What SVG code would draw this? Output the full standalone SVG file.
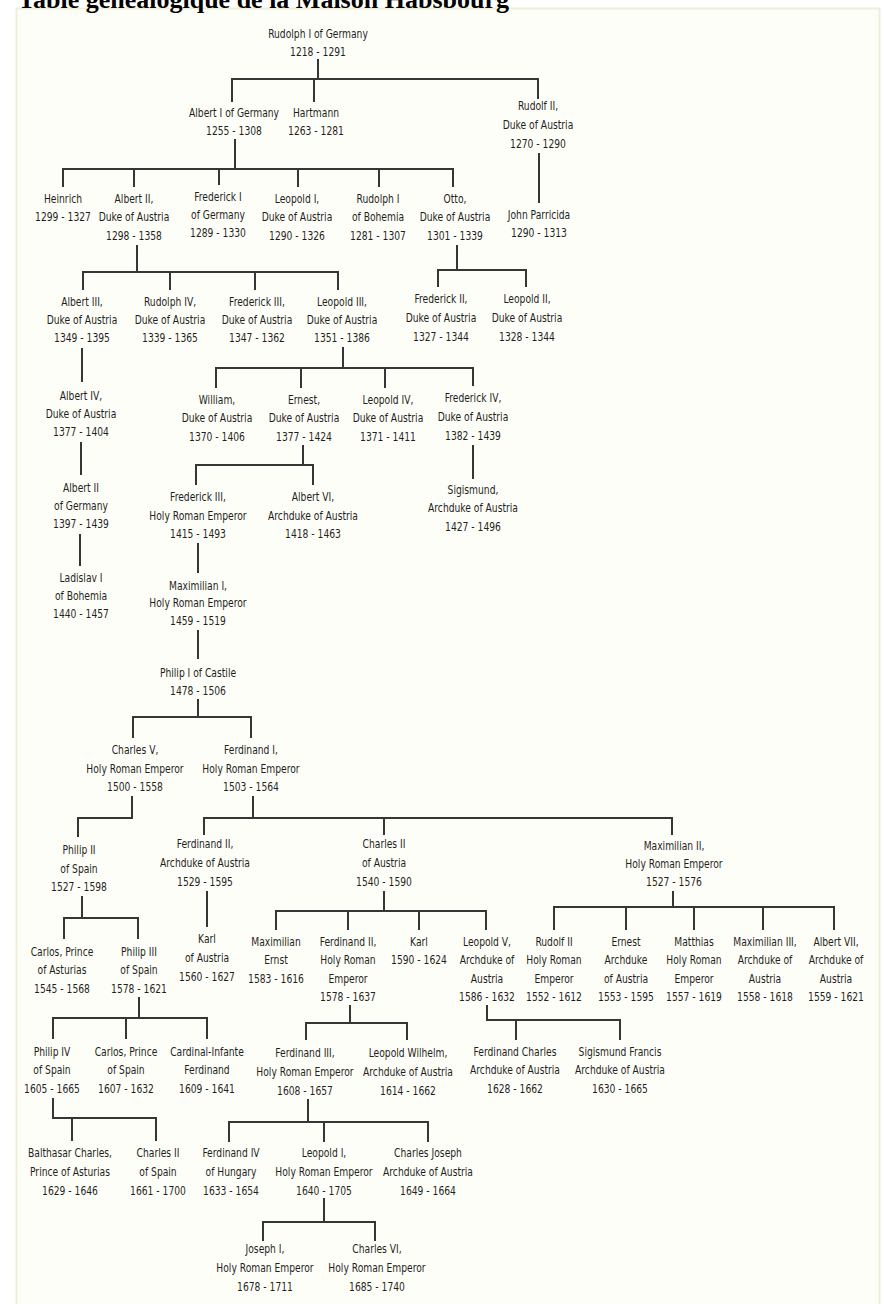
<svg xmlns="http://www.w3.org/2000/svg" width="884" height="1304" viewBox="0 0 884 1304">
<style>
.t{font-family:"DejaVu Sans Condensed","DejaVu Sans",sans-serif;font-size:12px;fill:#1e1e1e;text-anchor:middle}
.c{fill:none;stroke:#363636;stroke-width:2;stroke-linecap:square}
.title{font-family:"Liberation Serif","Times New Roman",serif;font-weight:bold;font-size:26px;fill:#000}
</style>
<rect x="0" y="0" width="884" height="1304" fill="#ffffff"/>
<rect x="16.5" y="8.5" width="863" height="1300" fill="#fefef8" stroke="#efefd6" stroke-width="2"/>
<text class="title" x="18" y="8">Table généalogique de la Maison Habsbourg</text>
<g id="connectors" class="c">
<path d="M318 60V79M232 79H538M232 79V101M314 79V101M538 79V98"/>
<path d="M235 140V169M63 169H453M63 169V186M134 169V186M219 169V184M298 169V186M379 169V186M453 169V186"/>
<path d="M539 154V202"/>
<path d="M137 246V272M83 272H338M83 272V289M170 272V289M255 272V289M338 272V289"/>
<path d="M457 246V270M438 270H526M438 270V286M526 270V286"/>
<path d="M82 349V381"/>
<path d="M343 348V368M216 368H473M216 368V387M301 368V387M385 368V387M473 368V385"/>
<path d="M81 443V474"/>
<path d="M303 446V465M196 465H313M196 465V484M313 465V484"/>
<path d="M473 446V478"/>
<path d="M80 535V565"/>
<path d="M198 544V572"/>
<path d="M198 631V658"/>
<path d="M198 700V717M133 717H251M133 717V737M251 717V737"/>
<path d="M132 797V818H78V836"/>
<path d="M253 797V818M204 818H672M204 818V834M384 818V834M672 818V834"/>
<path d="M82 897V918M64 918H138M64 918V938M138 918V938"/>
<path d="M207 892V926"/>
<path d="M384 892V911M276 911H486M276 911V929M348 911V929M419 911V929M486 911V929"/>
<path d="M673 892V907M554 907H834M554 907V929M626 907V929M694 907V929M763 907V929M834 907V929"/>
<path d="M139 998V1018M53 1018H207M53 1018V1038M126 1018V1038M207 1018V1038"/>
<path d="M350 1006V1023M306 1023H407M306 1023V1039M407 1023V1039"/>
<path d="M487 1006V1020H620M516 1020V1039M620 1020V1039"/>
<path d="M53 1099V1118H156M72 1118V1140M156 1118V1140"/>
<path d="M308 1100V1122M229 1122H428M229 1122V1141M324 1122V1141M428 1122V1141"/>
<path d="M324 1199V1222M263 1222H375M263 1222V1240M375 1222V1240"/>
</g>
<g id="n-rudolph1" transform="translate(318 0) scale(.85 1)"><text class="t"><tspan x="0" y="38.5">Rudolph I of Germany</tspan><tspan x="0" y="56.5">1218 - 1291</tspan></text></g>
<g id="n-albert1" transform="translate(234 0) scale(.85 1)"><text class="t"><tspan x="0" y="117.5">Albert I of Germany</tspan><tspan x="0" y="135.5">1255 - 1308</tspan></text></g>
<g id="n-hartmann" transform="translate(316 0) scale(.85 1)"><text class="t"><tspan x="0" y="117.5">Hartmann</tspan><tspan x="0" y="135.5">1263 - 1281</tspan></text></g>
<g id="n-rudolf2" transform="translate(538 0) scale(.85 1)"><text class="t"><tspan x="0" y="110.5">Rudolf II,</tspan><tspan x="0" y="129.5">Duke of Austria</tspan><tspan x="0" y="148.5">1270 - 1290</tspan></text></g>
<g id="n-heinrich" transform="translate(63 0) scale(.85 1)"><text class="t"><tspan x="0" y="203.5">Heinrich</tspan><tspan x="0" y="221.5">1299 - 1327</tspan></text></g>
<g id="n-albert2" transform="translate(134 0) scale(.85 1)"><text class="t"><tspan x="0" y="203.5">Albert II,</tspan><tspan x="0" y="221.5">Duke of Austria</tspan><tspan x="0" y="240.5">1298 - 1358</tspan></text></g>
<g id="n-frederick1" transform="translate(218 0) scale(.85 1)"><text class="t"><tspan x="0" y="201.5">Frederick I</tspan><tspan x="0" y="219.5">of Germany</tspan><tspan x="0" y="237.5">1289 - 1330</tspan></text></g>
<g id="n-leopold1" transform="translate(297 0) scale(.85 1)"><text class="t"><tspan x="0" y="203.5">Leopold I,</tspan><tspan x="0" y="221.5">Duke of Austria</tspan><tspan x="0" y="240.5">1290 - 1326</tspan></text></g>
<g id="n-rudolph1b" transform="translate(378 0) scale(.85 1)"><text class="t"><tspan x="0" y="203.5">Rudolph I</tspan><tspan x="0" y="221.5">of Bohemia</tspan><tspan x="0" y="240.5">1281 - 1307</tspan></text></g>
<g id="n-otto" transform="translate(455 0) scale(.85 1)"><text class="t"><tspan x="0" y="203.5">Otto,</tspan><tspan x="0" y="221.5">Duke of Austria</tspan><tspan x="0" y="240.5">1301 - 1339</tspan></text></g>
<g id="n-john" transform="translate(539 0) scale(.85 1)"><text class="t"><tspan x="0" y="219.5">John Parricida</tspan><tspan x="0" y="237.5">1290 - 1313</tspan></text></g>
<g id="n-albert3" transform="translate(82 0) scale(.85 1)"><text class="t"><tspan x="0" y="306.5">Albert III,</tspan><tspan x="0" y="324.5">Duke of Austria</tspan><tspan x="0" y="342.5">1349 - 1395</tspan></text></g>
<g id="n-rudolph4" transform="translate(170 0) scale(.85 1)"><text class="t"><tspan x="0" y="306.5">Rudolph IV,</tspan><tspan x="0" y="324.5">Duke of Austria</tspan><tspan x="0" y="342.5">1339 - 1365</tspan></text></g>
<g id="n-frederick3" transform="translate(257 0) scale(.85 1)"><text class="t"><tspan x="0" y="306.5">Frederick III,</tspan><tspan x="0" y="324.5">Duke of Austria</tspan><tspan x="0" y="342.5">1347 - 1362</tspan></text></g>
<g id="n-leopold3" transform="translate(342 0) scale(.85 1)"><text class="t"><tspan x="0" y="306.5">Leopold III,</tspan><tspan x="0" y="324.5">Duke of Austria</tspan><tspan x="0" y="342.5">1351 - 1386</tspan></text></g>
<g id="n-frederick2" transform="translate(441 0) scale(.85 1)"><text class="t"><tspan x="0" y="303.5">Frederick II,</tspan><tspan x="0" y="322.5">Duke of Austria</tspan><tspan x="0" y="341.5">1327 - 1344</tspan></text></g>
<g id="n-leopold2" transform="translate(527 0) scale(.85 1)"><text class="t"><tspan x="0" y="303.5">Leopold II,</tspan><tspan x="0" y="322.5">Duke of Austria</tspan><tspan x="0" y="341.5">1328 - 1344</tspan></text></g>
<g id="n-albert4" transform="translate(81 0) scale(.85 1)"><text class="t"><tspan x="0" y="400.5">Albert IV,</tspan><tspan x="0" y="418.5">Duke of Austria</tspan><tspan x="0" y="436.5">1377 - 1404</tspan></text></g>
<g id="n-william" transform="translate(217 0) scale(.85 1)"><text class="t"><tspan x="0" y="404.5">William,</tspan><tspan x="0" y="422.5">Duke of Austria</tspan><tspan x="0" y="441.5">1370 - 1406</tspan></text></g>
<g id="n-ernest" transform="translate(304 0) scale(.85 1)"><text class="t"><tspan x="0" y="404.5">Ernest,</tspan><tspan x="0" y="422.5">Duke of Austria</tspan><tspan x="0" y="441.5">1377 - 1424</tspan></text></g>
<g id="n-leopold4" transform="translate(388 0) scale(.85 1)"><text class="t"><tspan x="0" y="404.5">Leopold IV,</tspan><tspan x="0" y="422.5">Duke of Austria</tspan><tspan x="0" y="441.5">1371 - 1411</tspan></text></g>
<g id="n-frederick4" transform="translate(473 0) scale(.85 1)"><text class="t"><tspan x="0" y="402.5">Frederick IV,</tspan><tspan x="0" y="421.5">Duke of Austria</tspan><tspan x="0" y="440.5">1382 - 1439</tspan></text></g>
<g id="n-albert2g" transform="translate(81 0) scale(.85 1)"><text class="t"><tspan x="0" y="492.5">Albert II</tspan><tspan x="0" y="510.5">of Germany</tspan><tspan x="0" y="528.5">1397 - 1439</tspan></text></g>
<g id="n-frederick3h" transform="translate(198 0) scale(.85 1)"><text class="t"><tspan x="0" y="501.5">Frederick III,</tspan><tspan x="0" y="520.5">Holy Roman Emperor</tspan><tspan x="0" y="538.5">1415 - 1493</tspan></text></g>
<g id="n-albert6" transform="translate(313 0) scale(.85 1)"><text class="t"><tspan x="0" y="501.5">Albert VI,</tspan><tspan x="0" y="520.5">Archduke of Austria</tspan><tspan x="0" y="538.5">1418 - 1463</tspan></text></g>
<g id="n-sigismund" transform="translate(473 0) scale(.85 1)"><text class="t"><tspan x="0" y="494.5">Sigismund,</tspan><tspan x="0" y="512.5">Archduke of Austria</tspan><tspan x="0" y="531.5">1427 - 1496</tspan></text></g>
<g id="n-ladislav" transform="translate(81 0) scale(.85 1)"><text class="t"><tspan x="0" y="582.5">Ladislav I</tspan><tspan x="0" y="600.5">of Bohemia</tspan><tspan x="0" y="618.5">1440 - 1457</tspan></text></g>
<g id="n-maximilian1" transform="translate(198 0) scale(.85 1)"><text class="t"><tspan x="0" y="590.5">Maximilian I,</tspan><tspan x="0" y="607.5">Holy Roman Emperor</tspan><tspan x="0" y="625.5">1459 - 1519</tspan></text></g>
<g id="n-philip1" transform="translate(198 0) scale(.85 1)"><text class="t"><tspan x="0" y="677.5">Philip I of Castile</tspan><tspan x="0" y="695.5">1478 - 1506</tspan></text></g>
<g id="n-charles5" transform="translate(135 0) scale(.85 1)"><text class="t"><tspan x="0" y="754.5">Charles V,</tspan><tspan x="0" y="773.5">Holy Roman Emperor</tspan><tspan x="0" y="791.5">1500 - 1558</tspan></text></g>
<g id="n-ferdinand1" transform="translate(251 0) scale(.85 1)"><text class="t"><tspan x="0" y="754.5">Ferdinand I,</tspan><tspan x="0" y="773.5">Holy Roman Emperor</tspan><tspan x="0" y="791.5">1503 - 1564</tspan></text></g>
<g id="n-philip2" transform="translate(79 0) scale(.85 1)"><text class="t"><tspan x="0" y="854.5">Philip II</tspan><tspan x="0" y="873.5">of Spain</tspan><tspan x="0" y="891.5">1527 - 1598</tspan></text></g>
<g id="n-ferdinand2a" transform="translate(205 0) scale(.85 1)"><text class="t"><tspan x="0" y="848.5">Ferdinand II,</tspan><tspan x="0" y="867.5">Archduke of Austria</tspan><tspan x="0" y="886.5">1529 - 1595</tspan></text></g>
<g id="n-charles2a" transform="translate(384 0) scale(.85 1)"><text class="t"><tspan x="0" y="848.5">Charles II</tspan><tspan x="0" y="867.5">of Austria</tspan><tspan x="0" y="886.5">1540 - 1590</tspan></text></g>
<g id="n-maximilian2" transform="translate(674 0) scale(.85 1)"><text class="t"><tspan x="0" y="850.5">Maximilian II,</tspan><tspan x="0" y="868.5">Holy Roman Emperor</tspan><tspan x="0" y="886.5">1527 - 1576</tspan></text></g>
<g id="n-carlos-ast" transform="translate(62 0) scale(.85 1)"><text class="t"><tspan x="0" y="956.5">Carlos, Prince</tspan><tspan x="0" y="974.5">of Asturias</tspan><tspan x="0" y="993.5">1545 - 1568</tspan></text></g>
<g id="n-philip3" transform="translate(139 0) scale(.85 1)"><text class="t"><tspan x="0" y="956.5">Philip III</tspan><tspan x="0" y="974.5">of Spain</tspan><tspan x="0" y="993.5">1578 - 1621</tspan></text></g>
<g id="n-karl-a" transform="translate(207 0) scale(.85 1)"><text class="t"><tspan x="0" y="943.5">Karl</tspan><tspan x="0" y="962.5">of Austria</tspan><tspan x="0" y="981.5">1560 - 1627</tspan></text></g>
<g id="n-maxernst" transform="translate(276 0) scale(.85 1)"><text class="t"><tspan x="0" y="946.5">Maximilian</tspan><tspan x="0" y="964.5">Ernst</tspan><tspan x="0" y="983.5">1583 - 1616</tspan></text></g>
<g id="n-ferdinand2h" transform="translate(348 0) scale(.85 1)"><text class="t"><tspan x="0" y="946.5">Ferdinand II,</tspan><tspan x="0" y="964.5">Holy Roman</tspan><tspan x="0" y="983.5">Emperor</tspan><tspan x="0" y="1001.5">1578 - 1637</tspan></text></g>
<g id="n-karl" transform="translate(419 0) scale(.85 1)"><text class="t"><tspan x="0" y="946.5">Karl</tspan><tspan x="0" y="964.5">1590 - 1624</tspan></text></g>
<g id="n-leopold5" transform="translate(487 0) scale(.85 1)"><text class="t"><tspan x="0" y="946.5">Leopold V,</tspan><tspan x="0" y="964.5">Archduke of</tspan><tspan x="0" y="983.5">Austria</tspan><tspan x="0" y="1001.5">1586 - 1632</tspan></text></g>
<g id="n-rudolf2h" transform="translate(554 0) scale(.85 1)"><text class="t"><tspan x="0" y="946.5">Rudolf II</tspan><tspan x="0" y="964.5">Holy Roman</tspan><tspan x="0" y="983.5">Emperor</tspan><tspan x="0" y="1001.5">1552 - 1612</tspan></text></g>
<g id="n-ernest-a" transform="translate(626 0) scale(.85 1)"><text class="t"><tspan x="0" y="946.5">Ernest</tspan><tspan x="0" y="964.5">Archduke</tspan><tspan x="0" y="983.5">of Austria</tspan><tspan x="0" y="1001.5">1553 - 1595</tspan></text></g>
<g id="n-matthias" transform="translate(694 0) scale(.85 1)"><text class="t"><tspan x="0" y="946.5">Matthias</tspan><tspan x="0" y="964.5">Holy Roman</tspan><tspan x="0" y="983.5">Emperor</tspan><tspan x="0" y="1001.5">1557 - 1619</tspan></text></g>
<g id="n-maximilian3" transform="translate(765 0) scale(.85 1)"><text class="t"><tspan x="0" y="946.5">Maximilian III,</tspan><tspan x="0" y="964.5">Archduke of</tspan><tspan x="0" y="983.5">Austria</tspan><tspan x="0" y="1001.5">1558 - 1618</tspan></text></g>
<g id="n-albert7" transform="translate(836 0) scale(.85 1)"><text class="t"><tspan x="0" y="946.5">Albert VII,</tspan><tspan x="0" y="964.5">Archduke of</tspan><tspan x="0" y="983.5">Austria</tspan><tspan x="0" y="1001.5">1559 - 1621</tspan></text></g>
<g id="n-philip4" transform="translate(52 0) scale(.85 1)"><text class="t"><tspan x="0" y="1056.5">Philip IV</tspan><tspan x="0" y="1074.5">of Spain</tspan><tspan x="0" y="1093.5">1605 - 1665</tspan></text></g>
<g id="n-carlos-sp" transform="translate(126 0) scale(.85 1)"><text class="t"><tspan x="0" y="1056.5">Carlos, Prince</tspan><tspan x="0" y="1074.5">of Spain</tspan><tspan x="0" y="1093.5">1607 - 1632</tspan></text></g>
<g id="n-cardinal" transform="translate(207 0) scale(.85 1)"><text class="t"><tspan x="0" y="1056.5">Cardinal-Infante</tspan><tspan x="0" y="1074.5">Ferdinand</tspan><tspan x="0" y="1093.5">1609 - 1641</tspan></text></g>
<g id="n-ferdinand3" transform="translate(305 0) scale(.85 1)"><text class="t"><tspan x="0" y="1057.5">Ferdinand III,</tspan><tspan x="0" y="1076.5">Holy Roman Emperor</tspan><tspan x="0" y="1095.5">1608 - 1657</tspan></text></g>
<g id="n-leopoldw" transform="translate(408 0) scale(.85 1)"><text class="t"><tspan x="0" y="1057.5">Leopold Wilhelm,</tspan><tspan x="0" y="1076.5">Archduke of Austria</tspan><tspan x="0" y="1095.5">1614 - 1662</tspan></text></g>
<g id="n-ferdcharles" transform="translate(515 0) scale(.85 1)"><text class="t"><tspan x="0" y="1056.5">Ferdinand Charles</tspan><tspan x="0" y="1074.5">Archduke of Austria</tspan><tspan x="0" y="1093.5">1628 - 1662</tspan></text></g>
<g id="n-sigfrancis" transform="translate(620 0) scale(.85 1)"><text class="t"><tspan x="0" y="1056.5">Sigismund Francis</tspan><tspan x="0" y="1074.5">Archduke of Austria</tspan><tspan x="0" y="1093.5">1630 - 1665</tspan></text></g>
<g id="n-balthasar" transform="translate(70 0) scale(.85 1)"><text class="t"><tspan x="0" y="1157.5">Balthasar Charles,</tspan><tspan x="0" y="1176.5">Prince of Asturias</tspan><tspan x="0" y="1195.5">1629 - 1646</tspan></text></g>
<g id="n-charles2s" transform="translate(158 0) scale(.85 1)"><text class="t"><tspan x="0" y="1157.5">Charles II</tspan><tspan x="0" y="1176.5">of Spain</tspan><tspan x="0" y="1195.5">1661 - 1700</tspan></text></g>
<g id="n-ferdinand4" transform="translate(231 0) scale(.85 1)"><text class="t"><tspan x="0" y="1157.5">Ferdinand IV</tspan><tspan x="0" y="1176.5">of Hungary</tspan><tspan x="0" y="1195.5">1633 - 1654</tspan></text></g>
<g id="n-leopold1h" transform="translate(324 0) scale(.85 1)"><text class="t"><tspan x="0" y="1157.5">Leopold I,</tspan><tspan x="0" y="1176.5">Holy Roman Emperor</tspan><tspan x="0" y="1195.5">1640 - 1705</tspan></text></g>
<g id="n-charlesjoseph" transform="translate(428 0) scale(.85 1)"><text class="t"><tspan x="0" y="1157.5">Charles Joseph</tspan><tspan x="0" y="1176.5">Archduke of Austria</tspan><tspan x="0" y="1195.5">1649 - 1664</tspan></text></g>
<g id="n-joseph1" transform="translate(265 0) scale(.85 1)"><text class="t"><tspan x="0" y="1253.5">Joseph I,</tspan><tspan x="0" y="1272.5">Holy Roman Emperor</tspan><tspan x="0" y="1291.5">1678 - 1711</tspan></text></g>
<g id="n-charles6" transform="translate(377 0) scale(.85 1)"><text class="t"><tspan x="0" y="1253.5">Charles VI,</tspan><tspan x="0" y="1272.5">Holy Roman Emperor</tspan><tspan x="0" y="1291.5">1685 - 1740</tspan></text></g>
</svg>
